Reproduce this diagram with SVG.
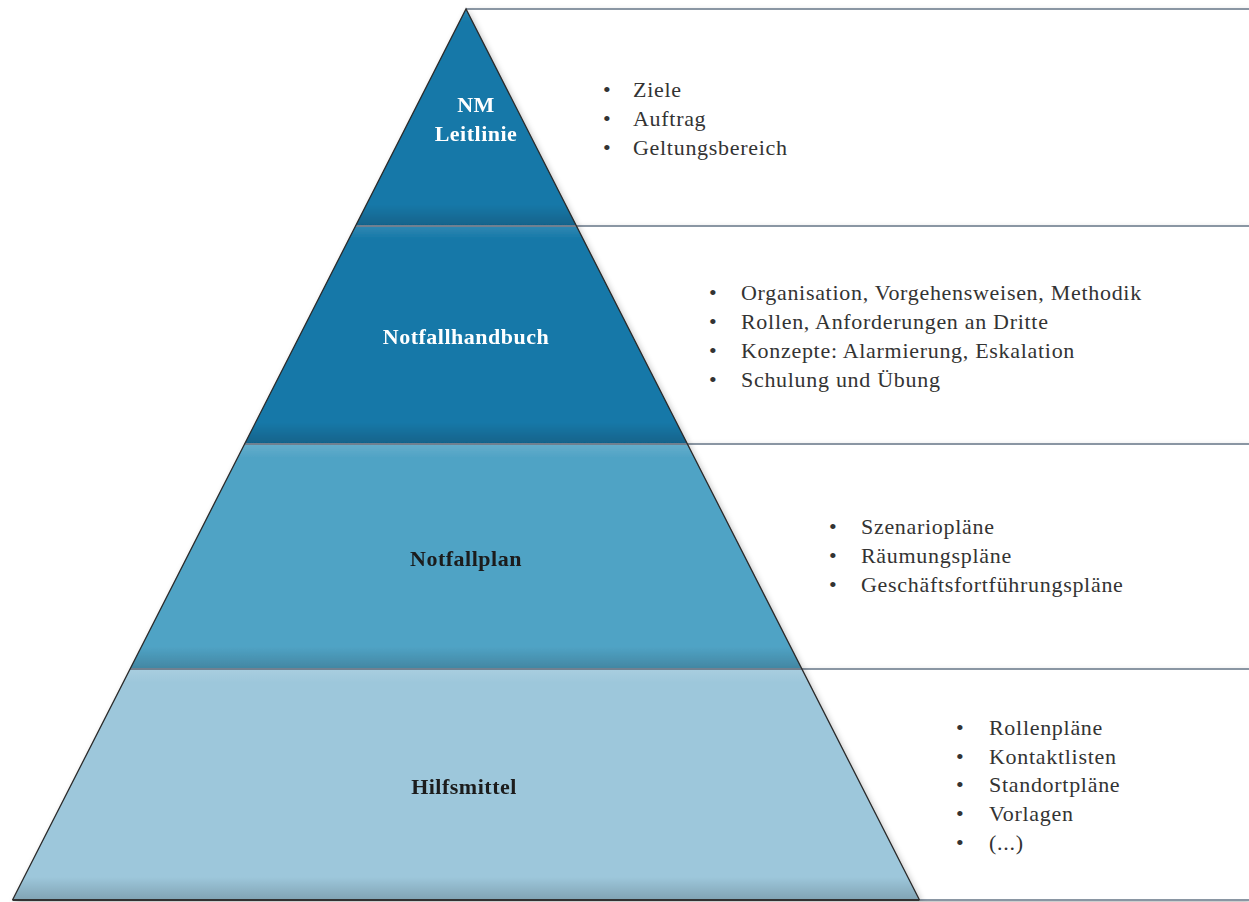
<svg xmlns="http://www.w3.org/2000/svg" width="1249" height="902" viewBox="0 0 1249 902">
<defs>
<style>
.box{fill:#fff;stroke:none}
.hl{stroke:#8a96a3;stroke-width:2;fill:none}
.side{stroke:#2b2b2b;stroke-width:1.3;fill:none}
.sep{stroke:#6f8090;stroke-width:2;fill:none}
.lbl{font-family:"Liberation Serif","DejaVu Serif",serif;font-weight:bold;font-size:22px;letter-spacing:0.5px;text-anchor:middle}
.w{fill:#ffffff}
.d{fill:#1a1a1a}
.li{font-family:"Liberation Serif","DejaVu Serif",serif;font-size:22px;letter-spacing:0.7px;fill:#333}
.bul{font-family:"Liberation Serif","DejaVu Serif",serif;font-size:22px;fill:#333}
</style>
<linearGradient id="shade" x1="0" y1="0" x2="0" y2="1">
<stop offset="0" stop-color="#fff" stop-opacity="0.12"/>
<stop offset="0.06" stop-color="#fff" stop-opacity="0"/>
<stop offset="0.9" stop-color="#000" stop-opacity="0"/>
<stop offset="1" stop-color="#000" stop-opacity="0.18"/>
</linearGradient>
<filter id="sh" x="-5%" y="-5%" width="110%" height="115%">
<feGaussianBlur in="SourceAlpha" stdDeviation="3"/>
<feOffset dx="2" dy="3" result="b"/>
<feComponentTransfer><feFuncA type="linear" slope="0.25"/></feComponentTransfer>
<feMerge><feMergeNode/><feMergeNode in="SourceGraphic"/></feMerge>
</filter>
</defs>
<rect width="1249" height="902" fill="#fff"/>

<g id="panels">
<g id="panel1" filter="url(#sh)">
<polygon class="box" points="466,9 1249,9 1249,226 576.5,226"/>
<line class="hl" x1="466" y1="9" x2="1249" y2="9"/>
<line class="hl" x1="576.5" y1="226" x2="1249" y2="226"/>
</g>
<g id="panel2" filter="url(#sh)">
<polygon class="box" points="576.5,226 1249,226 1249,444 687.4,444"/>
<line class="hl" x1="576.5" y1="226" x2="1249" y2="226"/>
<line class="hl" x1="687.4" y1="444" x2="1249" y2="444"/>
</g>
<g id="panel3" filter="url(#sh)">
<polygon class="box" points="687.4,444 1249,444 1249,669 801.9,669"/>
<line class="hl" x1="687.4" y1="444" x2="1249" y2="444"/>
<line class="hl" x1="801.9" y1="669" x2="1249" y2="669"/>
</g>
<g id="panel4" filter="url(#sh)">
<polygon class="box" points="801.9,669 1249,669 1249,900 919.5,900"/>
<line class="hl" x1="801.9" y1="669" x2="1249" y2="669"/>
<line class="hl" x1="919.5" y1="900" x2="1249" y2="900"/>
</g>
</g>

<g id="pyramid" filter="url(#sh)">
<g id="layer1">
<polygon points="466,9 576.5,226 355.5,226" fill="#1578a8"/>
<polygon points="466,9 576.5,226 355.5,226" fill="url(#shade)"/>
<text class="lbl w" x="476" y="112">NM</text>
<text class="lbl w" x="476" y="141">Leitlinie</text>
</g>
<g id="layer2">
<polygon points="355.5,226 576.5,226 687.4,444 244.6,444" fill="#1578a8"/>
<polygon points="355.5,226 576.5,226 687.4,444 244.6,444" fill="url(#shade)"/>
<text class="lbl w" x="466" y="344">Notfallhandbuch</text>
</g>
<g id="layer3">
<polygon points="244.6,444 687.4,444 801.9,669 130.1,669" fill="#50a3c5"/>
<polygon points="244.6,444 687.4,444 801.9,669 130.1,669" fill="url(#shade)"/>
<text class="lbl d" x="466" y="566">Notfallplan</text>
</g>
<g id="layer4">
<polygon points="130.1,669 801.9,669 919.5,900 12.5,900" fill="#9dc7db"/>
<polygon points="130.1,669 801.9,669 919.5,900 12.5,900" fill="url(#shade)"/>
<text class="lbl d" x="464" y="794">Hilfsmittel</text>
</g>
<line class="sep" x1="355.5" y1="226" x2="576.5" y2="226"/>
<line class="sep" x1="244.6" y1="444" x2="687.4" y2="444"/>
<line class="sep" x1="130.1" y1="669" x2="801.9" y2="669"/>
<polyline class="side" points="12.5,900 466,9 919.5,900"/>
<line x1="12.5" y1="900" x2="919.5" y2="900" stroke="#333" stroke-width="2"/>
</g>

<g id="list1">
<text class="bul" x="603" y="97">•</text><text class="li" x="633" y="97">Ziele</text>
<text class="bul" x="603" y="126">•</text><text class="li" x="633" y="126">Auftrag</text>
<text class="bul" x="603" y="155">•</text><text class="li" x="633" y="155">Geltungsbereich</text>
</g>
<g id="list2">
<text class="bul" x="709" y="300">•</text><text class="li" x="741" y="300">Organisation, Vorgehensweisen, Methodik</text>
<text class="bul" x="709" y="329">•</text><text class="li" x="741" y="329">Rollen, Anforderungen an Dritte</text>
<text class="bul" x="709" y="358">•</text><text class="li" x="741" y="358">Konzepte: Alarmierung, Eskalation</text>
<text class="bul" x="709" y="387">•</text><text class="li" x="741" y="387">Schulung und Übung</text>
</g>
<g id="list3">
<text class="bul" x="829" y="534">•</text><text class="li" x="861" y="534">Szenariopläne</text>
<text class="bul" x="829" y="563">•</text><text class="li" x="861" y="563">Räumungspläne</text>
<text class="bul" x="829" y="592">•</text><text class="li" x="861" y="592">Geschäftsfortführungspläne</text>
</g>
<g id="list4">
<text class="bul" x="956" y="735">•</text><text class="li" x="989" y="735">Rollenpläne</text>
<text class="bul" x="956" y="764">•</text><text class="li" x="989" y="764">Kontaktlisten</text>
<text class="bul" x="956" y="792">•</text><text class="li" x="989" y="792">Standortpläne</text>
<text class="bul" x="956" y="821">•</text><text class="li" x="989" y="821">Vorlagen</text>
<text class="bul" x="956" y="850">•</text><text class="li" x="989" y="850">(...)</text>
</g>
</svg>
